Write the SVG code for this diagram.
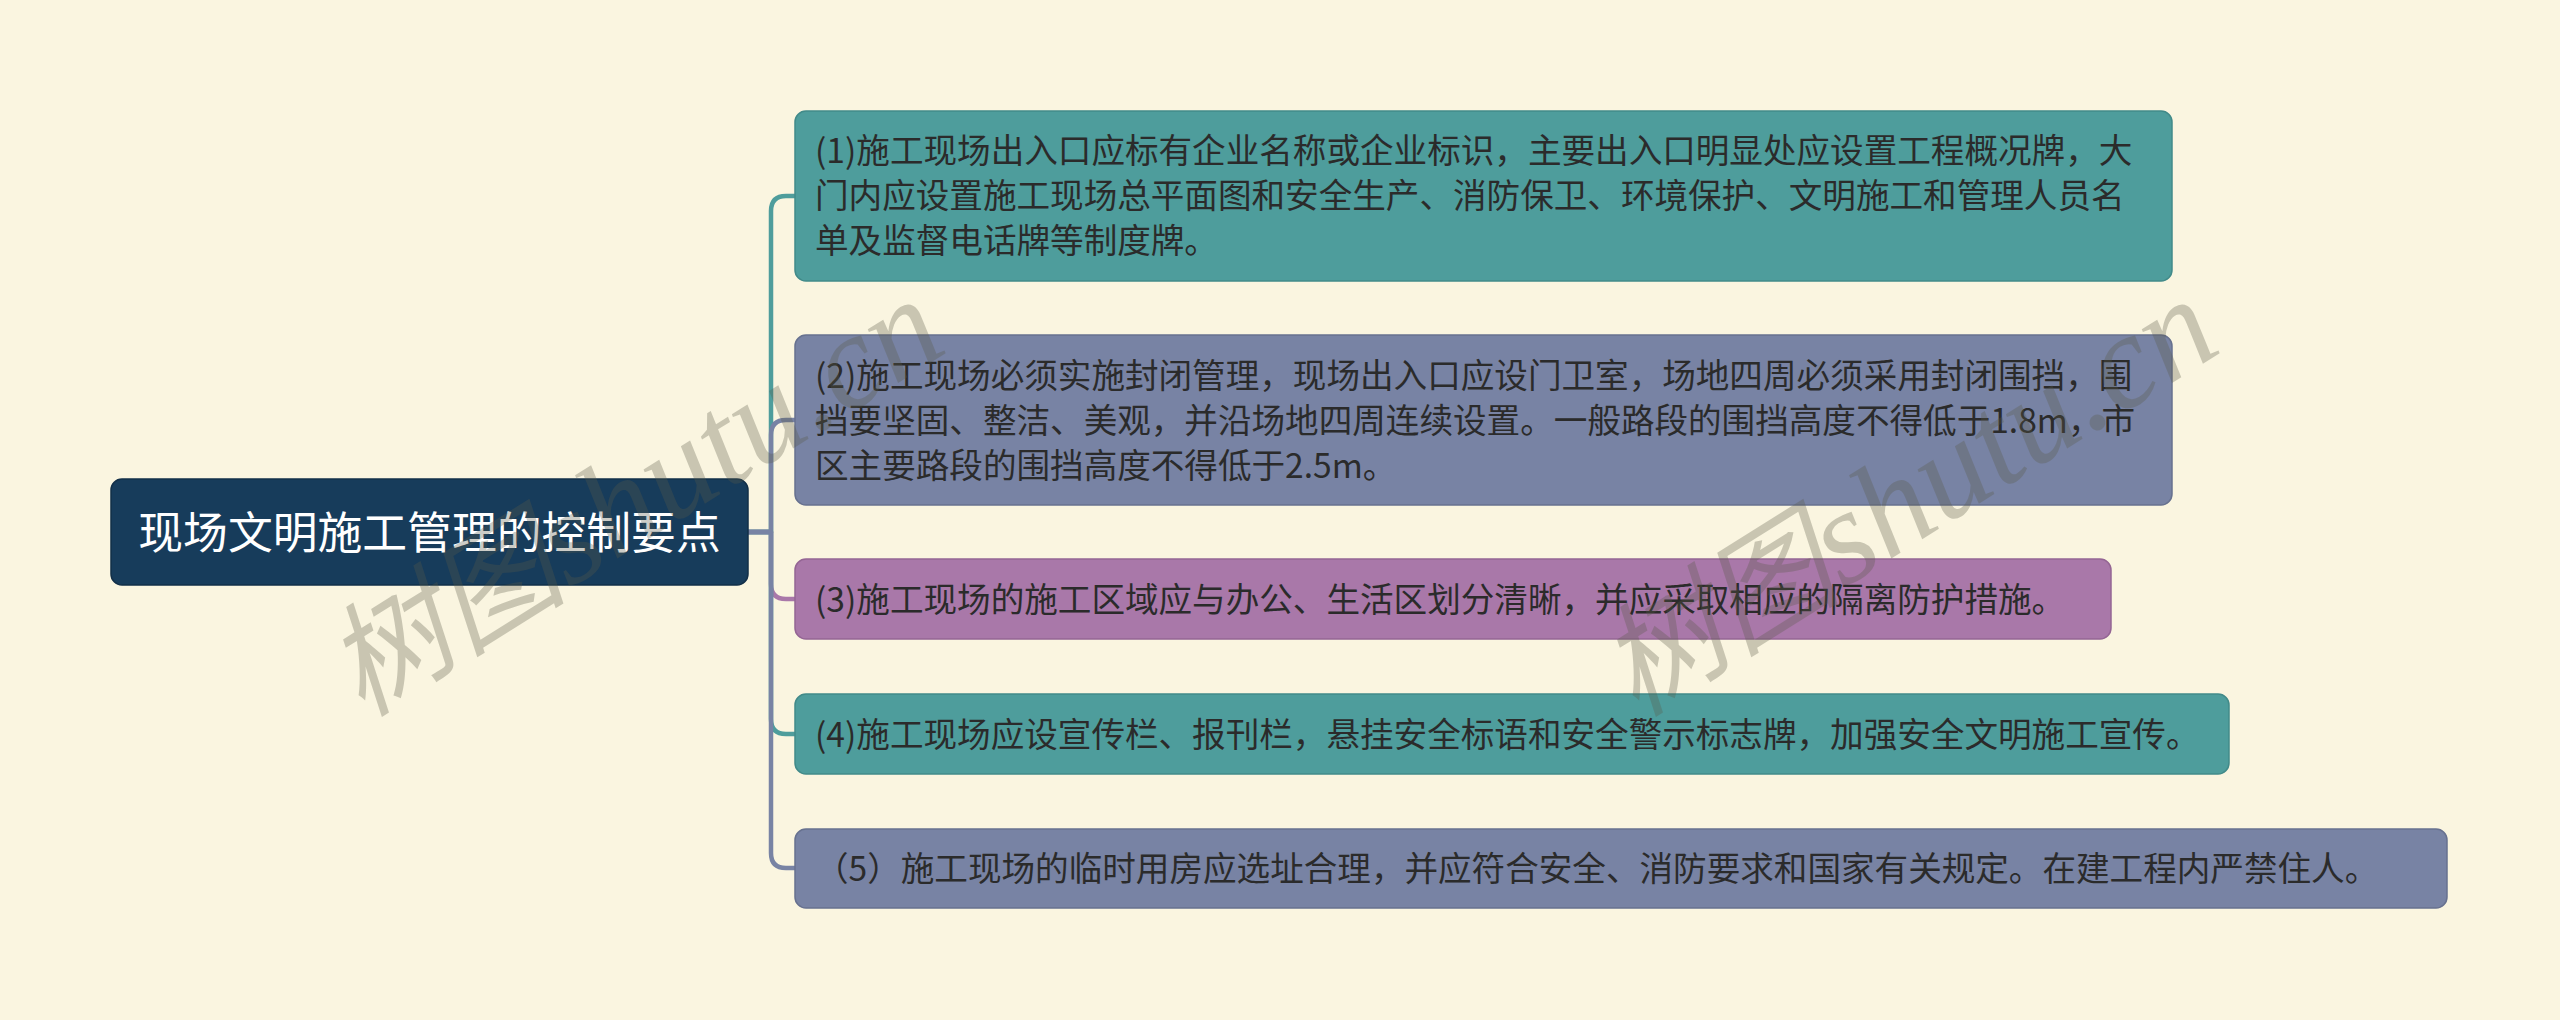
<svg xmlns="http://www.w3.org/2000/svg" width="2560" height="1020" viewBox="0 0 2560 1020">
<style>
.bg{fill:#FAF5E0}
.root rect{fill:#173C5B;stroke:#122f48;stroke-width:1.5}
.root text{fill:#FFFFFF;font-family:"Noto Sans CJK SC","Noto Sans",sans-serif;font-size:44.8px;text-anchor:middle}
.n text{fill:#2B2B2B;font-family:"Noto Sans CJK SC","Noto Sans",sans-serif;font-size:33.6px}
.teal rect{fill:#4E9D9C;stroke:#418a89;stroke-width:1.5}
.slate rect{fill:#7883A4;stroke:#67718f;stroke-width:1.5}
.purple rect{fill:#A978A9;stroke:#946594;stroke-width:1.5}
.c{fill:none;stroke-width:4.5;stroke-linecap:round;stroke-linejoin:round}
.ct{stroke:#4E9D9C}
.cs{stroke:#7883A4}
.cp{stroke:#A978A9}
.wm{fill:#5a5a48;opacity:0.3;font-family:"Liberation Serif","Noto Sans CJK SC",serif;font-style:italic;font-size:122px}
.wm tspan{font-size:134px}
</style>
<rect class="bg" x="0" y="0" width="2560" height="1020"/>
<g id="connectors">
<path class="c ct" d="M747,532 H771 V211 Q771,196 786,196 H796"/>
<path class="c cs" d="M747,532 H771 V435 Q771,420 786,420 H796"/>
<path class="c cp" d="M747,532 H771 V584 Q771,599 786,599 H796"/>
<path class="c ct" d="M747,532 H771 V719 Q771,734 786,734 H796"/>
<path class="c cs" d="M747,532 H771 V853 Q771,868 786,868 H796"/>
</g>
<g id="root" class="root">
<rect x="111" y="479" width="637" height="106" rx="11"/>
<text x="429.5" y="549">现场文明施工管理的控制要点</text>
</g>
<g id="node1" class="n teal">
<rect x="795" y="111" width="1377" height="170" rx="11"/>
<text x="815" y="163">(1)施工现场出入口应标有企业名称或企业标识，主要出入口明显处应设置工程概况牌，大</text>
<text x="815" y="208">门内应设置施工现场总平面图和安全生产、消防保卫、环境保护、文明施工和管理人员名</text>
<text x="815" y="253">单及监督电话牌等制度牌。</text>
</g>
<g id="node2" class="n slate">
<rect x="795" y="335" width="1377" height="170" rx="11"/>
<text x="815" y="388">(2)施工现场必须实施封闭管理，现场出入口应设门卫室，场地四周必须采用封闭围挡，围</text>
<text x="815" y="433">挡要坚固、整洁、美观，并沿场地四周连续设置。一般路段的围挡高度不得低于1.8m，市</text>
<text x="815" y="478">区主要路段的围挡高度不得低于2.5m。</text>
</g>
<g id="node3" class="n purple">
<rect x="795" y="559" width="1316" height="80" rx="11"/>
<text x="815" y="612">(3)施工现场的施工区域应与办公、生活区划分清晰，并应采取相应的隔离防护措施。</text>
</g>
<g id="node4" class="n teal">
<rect x="795" y="694" width="1434" height="80" rx="11"/>
<text x="815" y="747">(4)施工现场应设宣传栏、报刊栏，悬挂安全标语和安全警示标志牌，加强安全文明施工宣传。</text>
</g>
<g id="node5" class="n slate">
<rect x="795" y="829" width="1652" height="79" rx="11"/>
<text x="815" y="881">（5）施工现场的临时用房应选址合理，并应符合安全、消防要求和国家有关规定。在建工程内严禁住人。</text>
</g>
<g id="watermarks">
<text class="wm" transform="translate(362,718) rotate(-32)">树图<tspan>shutu.cn</tspan></text>
<text class="wm" transform="translate(1636,718) rotate(-32)">树图<tspan>shutu.cn</tspan></text>
</g>
</svg>
